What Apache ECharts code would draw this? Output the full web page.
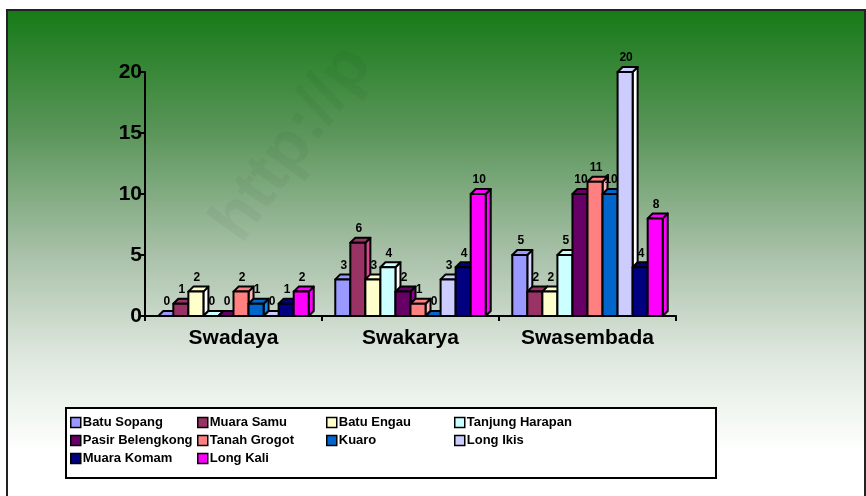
<!DOCTYPE html>
<html>
<head>
<meta charset="utf-8">
<script src="https://cdn.jsdelivr.net/npm/echarts@6/dist/echarts.min.js"></script>
<style>
  html, body { margin: 0; padding: 0; background: #fff; }
  #chart { width: 866px; height: 496px; }
</style>
</head>
<body>
<div id="chart"></div>
<script>
  // data
  var categories = ['Swadaya', 'Swakarya', 'Swasembada'];
  var seriesNames = ['Batu Sopang', 'Muara Samu', 'Batu Engau', 'Tanjung Harapan', 'Pasir Belengkong',
    'Tanah Grogot', 'Kuaro', 'Long Ikis', 'Muara Komam', 'Long Kali'];
  var batuSopang = [0, 3, 5];
  var muaraSamu = [1, 6, 2];
  var batuEngau = [2, 3, 2];
  var tanjungHarapan = [0, 4, 5];
  var pasirBelengkong = [0, 2, 10];
  var tanahGrogot = [2, 1, 11];
  var kuaro = [1, 0, 10];
  var longIkis = [0, 3, 20];
  var muaraKomam = [1, 4, 4];
  var longKali = [2, 10, 8];
  var yTicks = [0, 5, 10, 15, 20];

  var values = [batuSopang, muaraSamu, batuEngau, tanjungHarapan, pasirBelengkong,
    tanahGrogot, kuaro, longIkis, muaraKomam, longKali];
  var colors = ['#9999ff', '#993366', '#ffffcc', '#ccffff', '#660066',
    '#ff8080', '#0066cc', '#ccccff', '#000080', '#ff00ff'];

  var myChart = echarts.init(document.getElementById('chart'));
  var n = seriesNames.length;
  var depth = 5;

  // pseudo 3d bar: front, top and side faces
  function makeRender(si) {
    return function (params, api) {
      var cat = api.value(0), val = api.value(1);
      var base = api.coord([cat, 0]);
      var top = api.coord([cat, val]);
      var band = api.size([1, 0])[0];
      var gw = band * 0.85, bw = gw / n;
      var x = base[0] - gw / 2 + si * bw;
      var y0 = base[1], y1 = top[1];
      var d = depth;
      var c = colors[si];
      var dark = echarts.color.lift(c, -0.4);
      var st = { stroke: '#000', lineWidth: 2, lineJoin: 'round' };
      return {
        type: 'group',
        children: [
          { type: 'polygon', shape: { points: [[x + bw, y1], [x + bw + d, y1 - d], [x + bw + d, y0 - d], [x + bw, y0]] },
            style: Object.assign({ fill: dark }, st) },
          { type: 'polygon', shape: { points: [[x, y1], [x + d, y1 - d], [x + bw + d, y1 - d], [x + bw, y1]] },
            style: Object.assign({ fill: c }, st) },
          { type: 'rect', shape: { x: x, y: y1, width: bw, height: y0 - y1 },
            style: Object.assign({ fill: c }, st) },
          { type: 'text', style: { text: String(val), x: x + bw / 2 + 1, y: y1 - d - 3,
            align: 'center', verticalAlign: 'bottom', font: 'bold 12px Arial', fill: '#000' } }
        ]
      };
    };
  }

  var series = [];
  for (var i = 0; i < n; i++) {
    var d = [];
    for (var k = 0; k < categories.length; k++) {
      d.push([k, values[i][k]]);
    }
    series.push({
      name: seriesNames[i],
      type: 'custom',
      renderItem: makeRender(i),
      encode: { x: 0, y: 1 },
      itemStyle: { color: colors[i], borderColor: '#000', borderWidth: 1.5 },
      data: d
    });
  }

  var legendCols = [
    ['Batu Sopang', 'Pasir Belengkong', 'Muara Komam'],
    ['Muara Samu', 'Tanah Grogot', 'Long Kali'],
    ['Batu Engau', 'Kuaro'],
    ['Tanjung Harapan', 'Long Ikis']
  ];
  var legendLeft = [70, 197, 326, 454];
  var legends = legendCols.map(function (col, j) {
    return {
      data: col,
      orient: 'vertical',
      left: legendLeft[j],
      top: 416,
      padding: 0,
      itemGap: 5,
      itemWidth: 10,
      itemHeight: 10,
      icon: 'rect',
      selectedMode: false,
      itemStyle: { borderColor: '#000', borderWidth: 1.5 },
      textStyle: { fontFamily: 'Arial', fontWeight: 'bold', fontSize: 13, color: '#000', padding: [0, 0, 0, -3] }
    };
  });

  var option = {
    animation: false,
    backgroundColor: '#fff',
    graphic: [
      { type: 'rect', z: -10, shape: { x: 7, y: 10, width: 858, height: 490 },
        style: { fill: new echarts.graphic.LinearGradient(0, 0, 0, 1, [
          { offset: 0, color: '#167a16' },
          { offset: 0.25, color: '#5a955a' },
          { offset: 0.5, color: '#a9c1a9' },
          { offset: 0.7, color: '#dde6dd' },
          { offset: 0.82, color: '#f1f6f1' },
          { offset: 0.9, color: '#ffffff' },
          { offset: 1, color: '#ffffff' }
        ]), stroke: '#222', lineWidth: 2 } },
      { type: 'text', z: -5, rotation: Math.PI * 0.3, x: 200, y: 215,
        style: { text: 'http://p', font: 'bold 66px Arial', fill: 'rgba(0,0,0,0.035)' } },
      { type: 'rect', z: -4, shape: { x: 66, y: 408, width: 650, height: 70 },
        style: { fill: '#fff', stroke: '#000', lineWidth: 2 } }
    ],
    legend: legends,
    grid: { left: 145, right: 190, top: 72, bottom: 180 },
    xAxis: {
      type: 'category',
      data: categories,
      axisLine: { lineStyle: { color: '#000', width: 2 } },
      axisTick: { show: true, length: 5, lineStyle: { color: '#000', width: 2 } },
      axisLabel: { fontFamily: 'Arial', fontWeight: 'bold', fontSize: 21, color: '#000', margin: 12 },
      splitLine: { show: false }
    },
    yAxis: {
      type: 'value',
      min: yTicks[0],
      max: yTicks[yTicks.length - 1],
      interval: 5,
      axisLine: { show: true, lineStyle: { color: '#000', width: 2 } },
      axisTick: { show: true, length: 5, lineStyle: { color: '#000', width: 2 } },
      axisLabel: { fontFamily: 'Arial', fontWeight: 'bold', fontSize: 21, color: '#000', margin: 3 },
      splitLine: { show: false }
    },
    series: series
  };

  myChart.setOption(option);
</script>
</body>
</html>
